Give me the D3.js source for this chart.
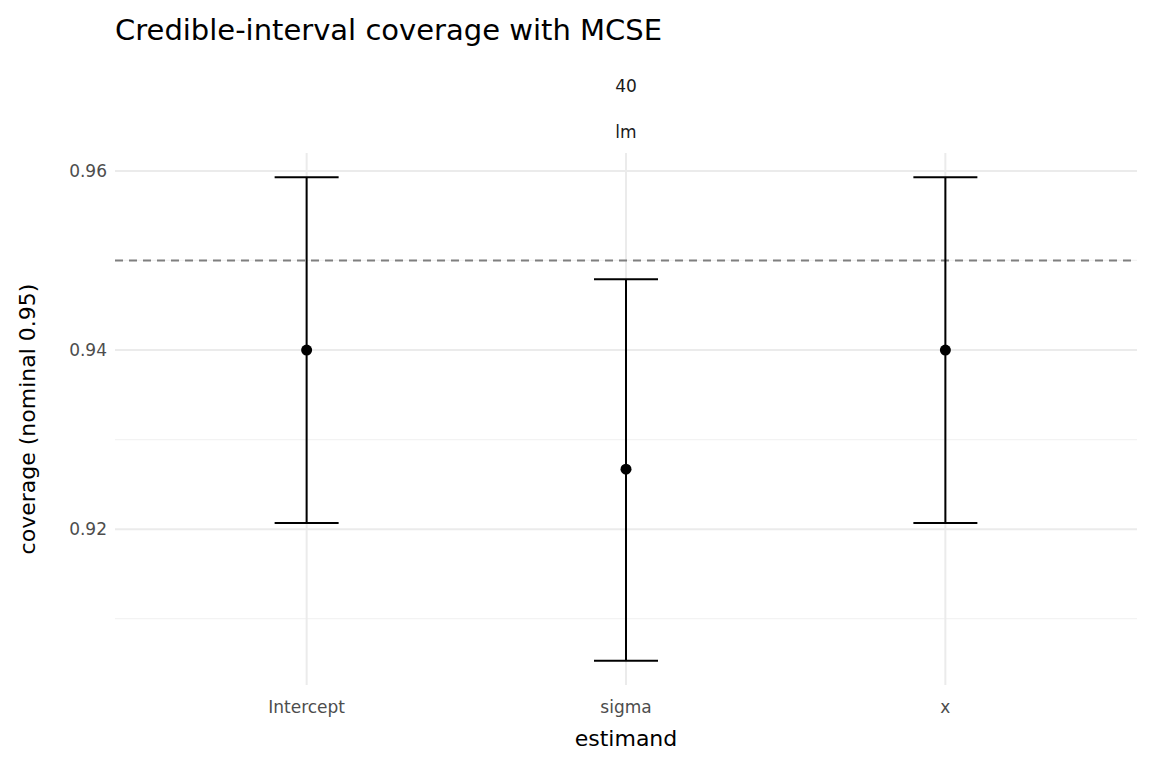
<!DOCTYPE html>
<html><head><meta charset="utf-8">
<script src="https://cdn.jsdelivr.net/npm/d3@7"></script>
<style>body{margin:0;background:#fff}svg text{font-family:'DejaVu Sans','Liberation Sans',sans-serif}</style>
</head><body><svg id="c" width="1152" height="768" font-family="DejaVu Sans"></svg>
<script>
const estimands = ["Intercept","sigma","x"];
const coverage = [0.94, 0.9267, 0.94];
const lower = [0.9207, 0.9053, 0.9207];
const upper = [0.9593, 0.9479, 0.9593];
const yTicks = [0.92, 0.94, 0.96];
const yMinor = [0.91, 0.93, 0.95];
const nominal = 0.95;

const svg = d3.select("#c");
const L=115,R=1137,T=153,B=685;
const x = d3.scalePoint().domain(estimands).range([L,R]).padding(0.6);
const y = d3.scaleLinear().domain([0.9026,0.962]).range([B,T]);

const g = svg.append("g");
yMinor.forEach(v=>g.append("line").attr("x1",L).attr("x2",R).attr("y1",y(v)).attr("y2",y(v)).attr("stroke","#f3f3f3").attr("stroke-width",1.2));
yTicks.forEach(v=>g.append("line").attr("x1",L).attr("x2",R).attr("y1",y(v)).attr("y2",y(v)).attr("stroke","#ebebeb").attr("stroke-width",2));
estimands.forEach(e=>g.append("line").attr("x1",x(e)).attr("x2",x(e)).attr("y1",T).attr("y2",B).attr("stroke","#ebebeb").attr("stroke-width",2));

g.append("line").attr("x1",L).attr("x2",R).attr("y1",y(nominal)).attr("y2",y(nominal))
 .attr("stroke","#7f7f7f").attr("stroke-width",2).attr("stroke-dasharray","8,6");

estimands.forEach((e,i)=>{
  const cx=x(e);
  g.append("line").attr("x1",cx).attr("x2",cx).attr("y1",y(lower[i])).attr("y2",y(upper[i])).attr("stroke","#000").attr("stroke-width",2);
  [lower[i],upper[i]].forEach(v=>g.append("line").attr("x1",cx-32).attr("x2",cx+32).attr("y1",y(v)).attr("y2",y(v)).attr("stroke","#000").attr("stroke-width",2));
  g.append("circle").attr("cx",cx).attr("cy",y(coverage[i])).attr("r",5.5).attr("fill","#000");
});

const F="DejaVu Sans";
yTicks.forEach(v=>svg.append("text").attr("font-family",F).attr("x",L-8).attr("y",y(v)).attr("dy","0.35em").attr("text-anchor","end").attr("font-size",17).attr("fill","#4d4d4d").text(v.toFixed(2)));
estimands.forEach(e=>svg.append("text").attr("font-family",F).attr("x",x(e)).attr("y",713).attr("text-anchor","middle").attr("font-size",17).attr("fill","#4d4d4d").text(e));

svg.append("text").attr("font-family",F).attr("x",(L+R)/2).attr("y",746).attr("text-anchor","middle").attr("font-size",22).attr("fill","#000").text("estimand");
svg.append("text").attr("font-family",F).attr("transform",`translate(35,${(T+B)/2}) rotate(-90)`).attr("text-anchor","middle").attr("font-size",22).attr("fill","#000").text("coverage (nominal 0.95)");
svg.append("text").attr("font-family",F).attr("x",(L+R)/2).attr("y",92).attr("text-anchor","middle").attr("font-size",17).attr("fill","#1a1a1a").text("40");
svg.append("text").attr("font-family",F).attr("x",(L+R)/2).attr("y",138).attr("text-anchor","middle").attr("font-size",17).attr("fill","#1a1a1a").text("lm");
svg.append("text").attr("font-family",F).attr("x",115).attr("y",40).attr("font-size",29).attr("fill","#000").text("Credible-interval coverage with MCSE");
</script></body></html>
